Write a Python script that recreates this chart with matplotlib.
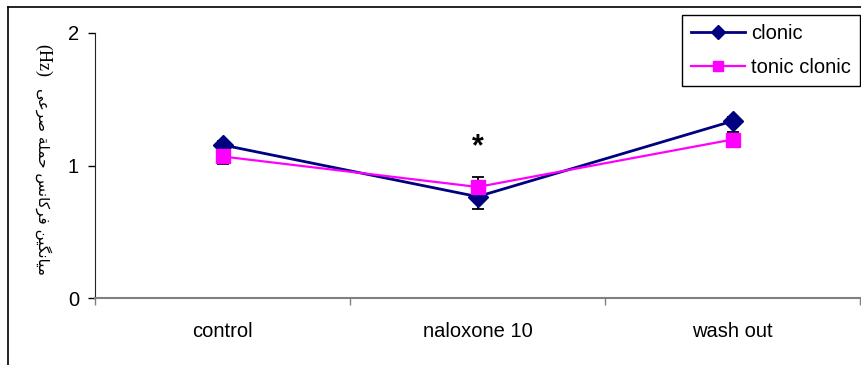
import matplotlib
matplotlib.use('Agg')
import matplotlib.pyplot as plt
import numpy as np
from matplotlib.lines import Line2D

# values
categories = ['control', 'naloxone 10', 'wash out']
clonic = [1.155, 0.765, 1.335]
clonic_err = [0.03, 0.093, 0.03]
tonic = [1.068, 0.838, 1.196]
tonic_err = [0.057, 0.078, 0.055]
star_y = 1.19  # asterisk over naloxone 10

# persian axis title, shaped by hand (presentation forms) and reversed for display
words = [
    [0xFEE3, 0xFBFF, 0xFE8E, 0xFEE7, 0xFB95, 0xFBFF, 0xFEE6],  # میانگین
    [0xFED3, 0xFEAE, 0xFB90, 0xFE8E, 0xFEE7, 0xFEB2],  # فرکانس
    [0xFEA3, 0xFEE4, 0xFEE0, 0xFE94],  # حملة
    [0xFEBB, 0xFEAE, 0xFECB, 0xFBFD],  # صرعی
]
logical = ' '.join(''.join(chr(c) for c in w) for w in words)
ylabel_fa = logical[::-1]
ylabel_unit = '(Hz)'

W, H = 861, 365
plt.rcParams['font.family'] = ['Liberation Sans', 'DejaVu Sans']

fig = plt.figure(figsize=(W / 100, H / 100), dpi=100)
ax = fig.add_axes([95 / W, 1 - 298 / H, (860 - 95) / W, (298 - 33) / H])

x = np.arange(len(categories)) + 0.5
ax.errorbar(x, clonic, yerr=clonic_err, fmt='none', ecolor='black',
            elinewidth=1.3, capsize=4.5, capthick=1.3, zorder=2)
ax.errorbar(x, tonic, yerr=tonic_err, fmt='none', ecolor='black',
            elinewidth=1.3, capsize=4.5, capthick=1.3, zorder=2)
ax.plot(x, clonic, color='#000080', marker='D', markersize=10, lw=2,
        label='clonic', zorder=3)
ax.plot(x, tonic, color='#FF00FF', marker='s', markersize=10, lw=1.6,
        label='tonic clonic', zorder=3)

ax.annotate('*', (1.5, star_y), xytext=(0, -10.5), textcoords='offset points',
            ha='center', va='baseline', fontsize=22, fontweight='bold')

ax.set_xlim(0, 3)
ax.set_ylim(0, 2)
ax.set_yticks([0, 1, 2])
ax.set_xticks([0, 1, 2, 3])
ax.set_xticklabels([])
ax.set_xticks(x, minor=True)
ax.set_xticklabels(categories, minor=True)
ax.tick_params(axis='x', which='major', direction='out', length=5, width=1, color='#808080')
ax.tick_params(axis='x', which='minor', length=0, pad=17, labelsize=14.5)
ax.tick_params(axis='y', direction='out', length=5, width=1, pad=6.5, labelsize=14.5)

for s in ['top', 'right']:
    ax.spines[s].set_visible(False)
ax.spines['left'].set_color('#222222')
ax.spines['bottom'].set_color('#808080')
ax.spines['bottom'].set_linewidth(1.5)

leg = ax.legend(loc='upper right', bbox_to_anchor=(860 / W, 1 - 15 / H),
                bbox_transform=fig.transFigure, borderaxespad=0, fancybox=False,
                fontsize=14.5, markerscale=0.75, handlelength=2.7, handletextpad=0.3,
                labelspacing=0.75, borderpad=0.45, framealpha=1)
leg.get_frame().set_edgecolor('black')
leg.get_frame().set_linewidth(1)

# rotated axis title: unit in serif on top, persian text below
fig.text(43 / W, 1 - 60 / H, ylabel_unit, rotation=270, ha='center', va='center',
         fontsize=13, family=['Liberation Serif'])
fig.text(43 / W, 1 - 181 / H, ylabel_fa, rotation=270, ha='center', va='center',
         fontsize=11, family=['DejaVu Sans'])

# outer chart border (top and left edges visible)
fig.add_artist(Line2D([8 / W, 8 / W], [-0.05, 1 - 7 / H], color='black', lw=1.2,
                      transform=fig.transFigure))
fig.add_artist(Line2D([8 / W, 1.05], [1 - 7 / H, 1 - 7 / H], color='black', lw=1.2,
                      transform=fig.transFigure))

fig.savefig('out.png', dpi=100)
